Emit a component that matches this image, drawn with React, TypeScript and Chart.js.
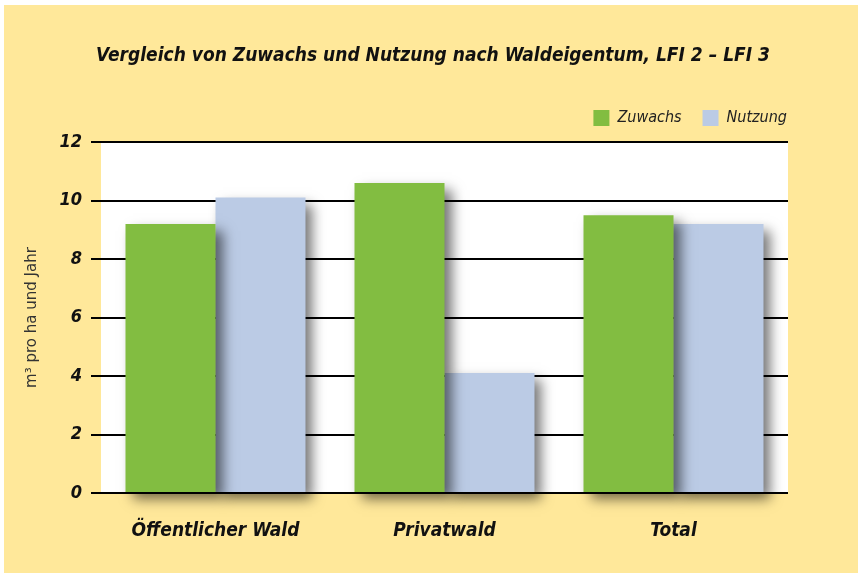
import React, { useEffect, useRef } from "react";
import { Chart, registerables } from "chart.js";

Chart.register(...registerables);

const categories = ["Öffentlicher Wald", "Privatwald", "Total"];
const zuwachs = [9.2, 10.6, 9.5];
const nutzung = [10.1, 4.1, 9.2];
const yTicks = [0, 2, 4, 6, 8, 10, 12];

const YELLOW = "#FFE89A";
const GREEN = "#82BD41";
const BLUE = "#BBCBE5";
const NARROW = "'Liberation Sans Narrow', 'DejaVu Sans Condensed', 'Liberation Sans'";

const bgPlugin = {
  id: "bgPlugin",
  beforeDraw(chart: any) {
    const { ctx, chartArea } = chart;
    ctx.save();
    ctx.fillStyle = "#ffffff";
    ctx.fillRect(0, 0, chart.width, chart.height);
    ctx.fillStyle = YELLOW;
    ctx.fillRect(4, 5, chart.width - 4, chart.height - 5);
    ctx.fillStyle = "#ffffff";
    ctx.fillRect(chartArea.left, chartArea.top, chartArea.right - chartArea.left, chartArea.bottom - chartArea.top);
    ctx.restore();
  },
};

const shadowPlugin = {
  id: "shadowPlugin",
  beforeDatasetsDraw(chart: any) {
    const ctx = chart.ctx;
    ctx.save();
    ctx.shadowColor = "rgba(0,0,0,0.55)";
    ctx.shadowBlur = 12;
    ctx.shadowOffsetX = 7;
    ctx.shadowOffsetY = 7;
  },
  afterDatasetsDraw(chart: any) {
    chart.ctx.restore();
  },
};

export default function App() {
  const ref = useRef<HTMLCanvasElement>(null);
  useEffect(() => {
    document.body.style.margin = "0";
    const chart = new Chart(ref.current as HTMLCanvasElement, {
      type: "bar",
      data: {
        labels: categories,
        datasets: [
          { label: "Zuwachs", data: zuwachs, backgroundColor: GREEN, borderWidth: 0, clip: false as any },
          { label: "Nutzung", data: nutzung, backgroundColor: BLUE, borderWidth: 0, clip: false as any },
        ],
      },
      options: {
        animation: false,
        responsive: false,
        devicePixelRatio: 1,
        layout: { padding: { left: 58, right: 50, top: 0, bottom: 0 } },
        datasets: { bar: { categoryPercentage: 0.786, barPercentage: 1 } },
        plugins: {
          tooltip: { enabled: false },
          title: {
            display: true,
            text: "Vergleich von Zuwachs und Nutzung nach Waldeigentum, LFI 2 – LFI 3",
            color: "#111",
            font: { family: NARROW, size: 19, weight: "bold", style: "italic" },
            padding: { top: 44, bottom: 22 },
          },
          legend: {
            display: true,
            position: "top",
            align: "end",
            labels: {
              boxWidth: 16,
              boxHeight: 16,
              padding: 21,
              color: "#222",
              font: { family: NARROW, size: 16, style: "italic" },
            },
          } as any,
          subtitle: {
            display: true,
            position: "top",
            weight: 900,
            text: "",
            padding: 0,
            font: { size: 6, lineHeight: 1 },
          } as any,
        },
        scales: {
          x: {
            grid: { display: false },
            border: { display: false },
            ticks: {
              color: "#111",
              padding: 19,
              font: { family: NARROW, size: 19, weight: "bold", style: "italic" },
            },
            afterFit: (s: any) => { s.height = 80; },
          },
          y: {
            min: 0,
            max: 12,
            afterBuildTicks: (s: any) => { s.ticks = yTicks.map((v) => ({ value: v })); },
            grid: { color: "#000", lineWidth: 2, drawTicks: true, tickLength: 10, tickColor: "#000" },
            border: { display: false },
            ticks: {
              color: "#111",
              padding: 9,
              font: { family: NARROW, size: 18, weight: "bold", style: "italic" },
            },
            title: {
              display: true,
              text: "m³ pro ha und Jahr",
              color: "#333",
              font: { family: "'DejaVu Sans'", size: 15 },
              padding: { top: -35, bottom: 0 },
            },
            afterFit: (s: any) => { s.width = 43; s.paddingTop = 142; },
          },
          y2: {
            position: "right",
            display: true,
            grid: { display: false },
            border: { display: false },
            ticks: { display: false },
            afterFit: (s: any) => { s.width = 20; },
          },
        },
      },
      plugins: [bgPlugin, shadowPlugin],
    });
    return () => chart.destroy();
  }, []);
  return (
    <div style={{ position: "absolute", left: 0, top: 0, width: 858, height: 573 }}>
      <canvas ref={ref} width={858} height={573} style={{ width: 858, height: 573 }} />
    </div>
  );
}
